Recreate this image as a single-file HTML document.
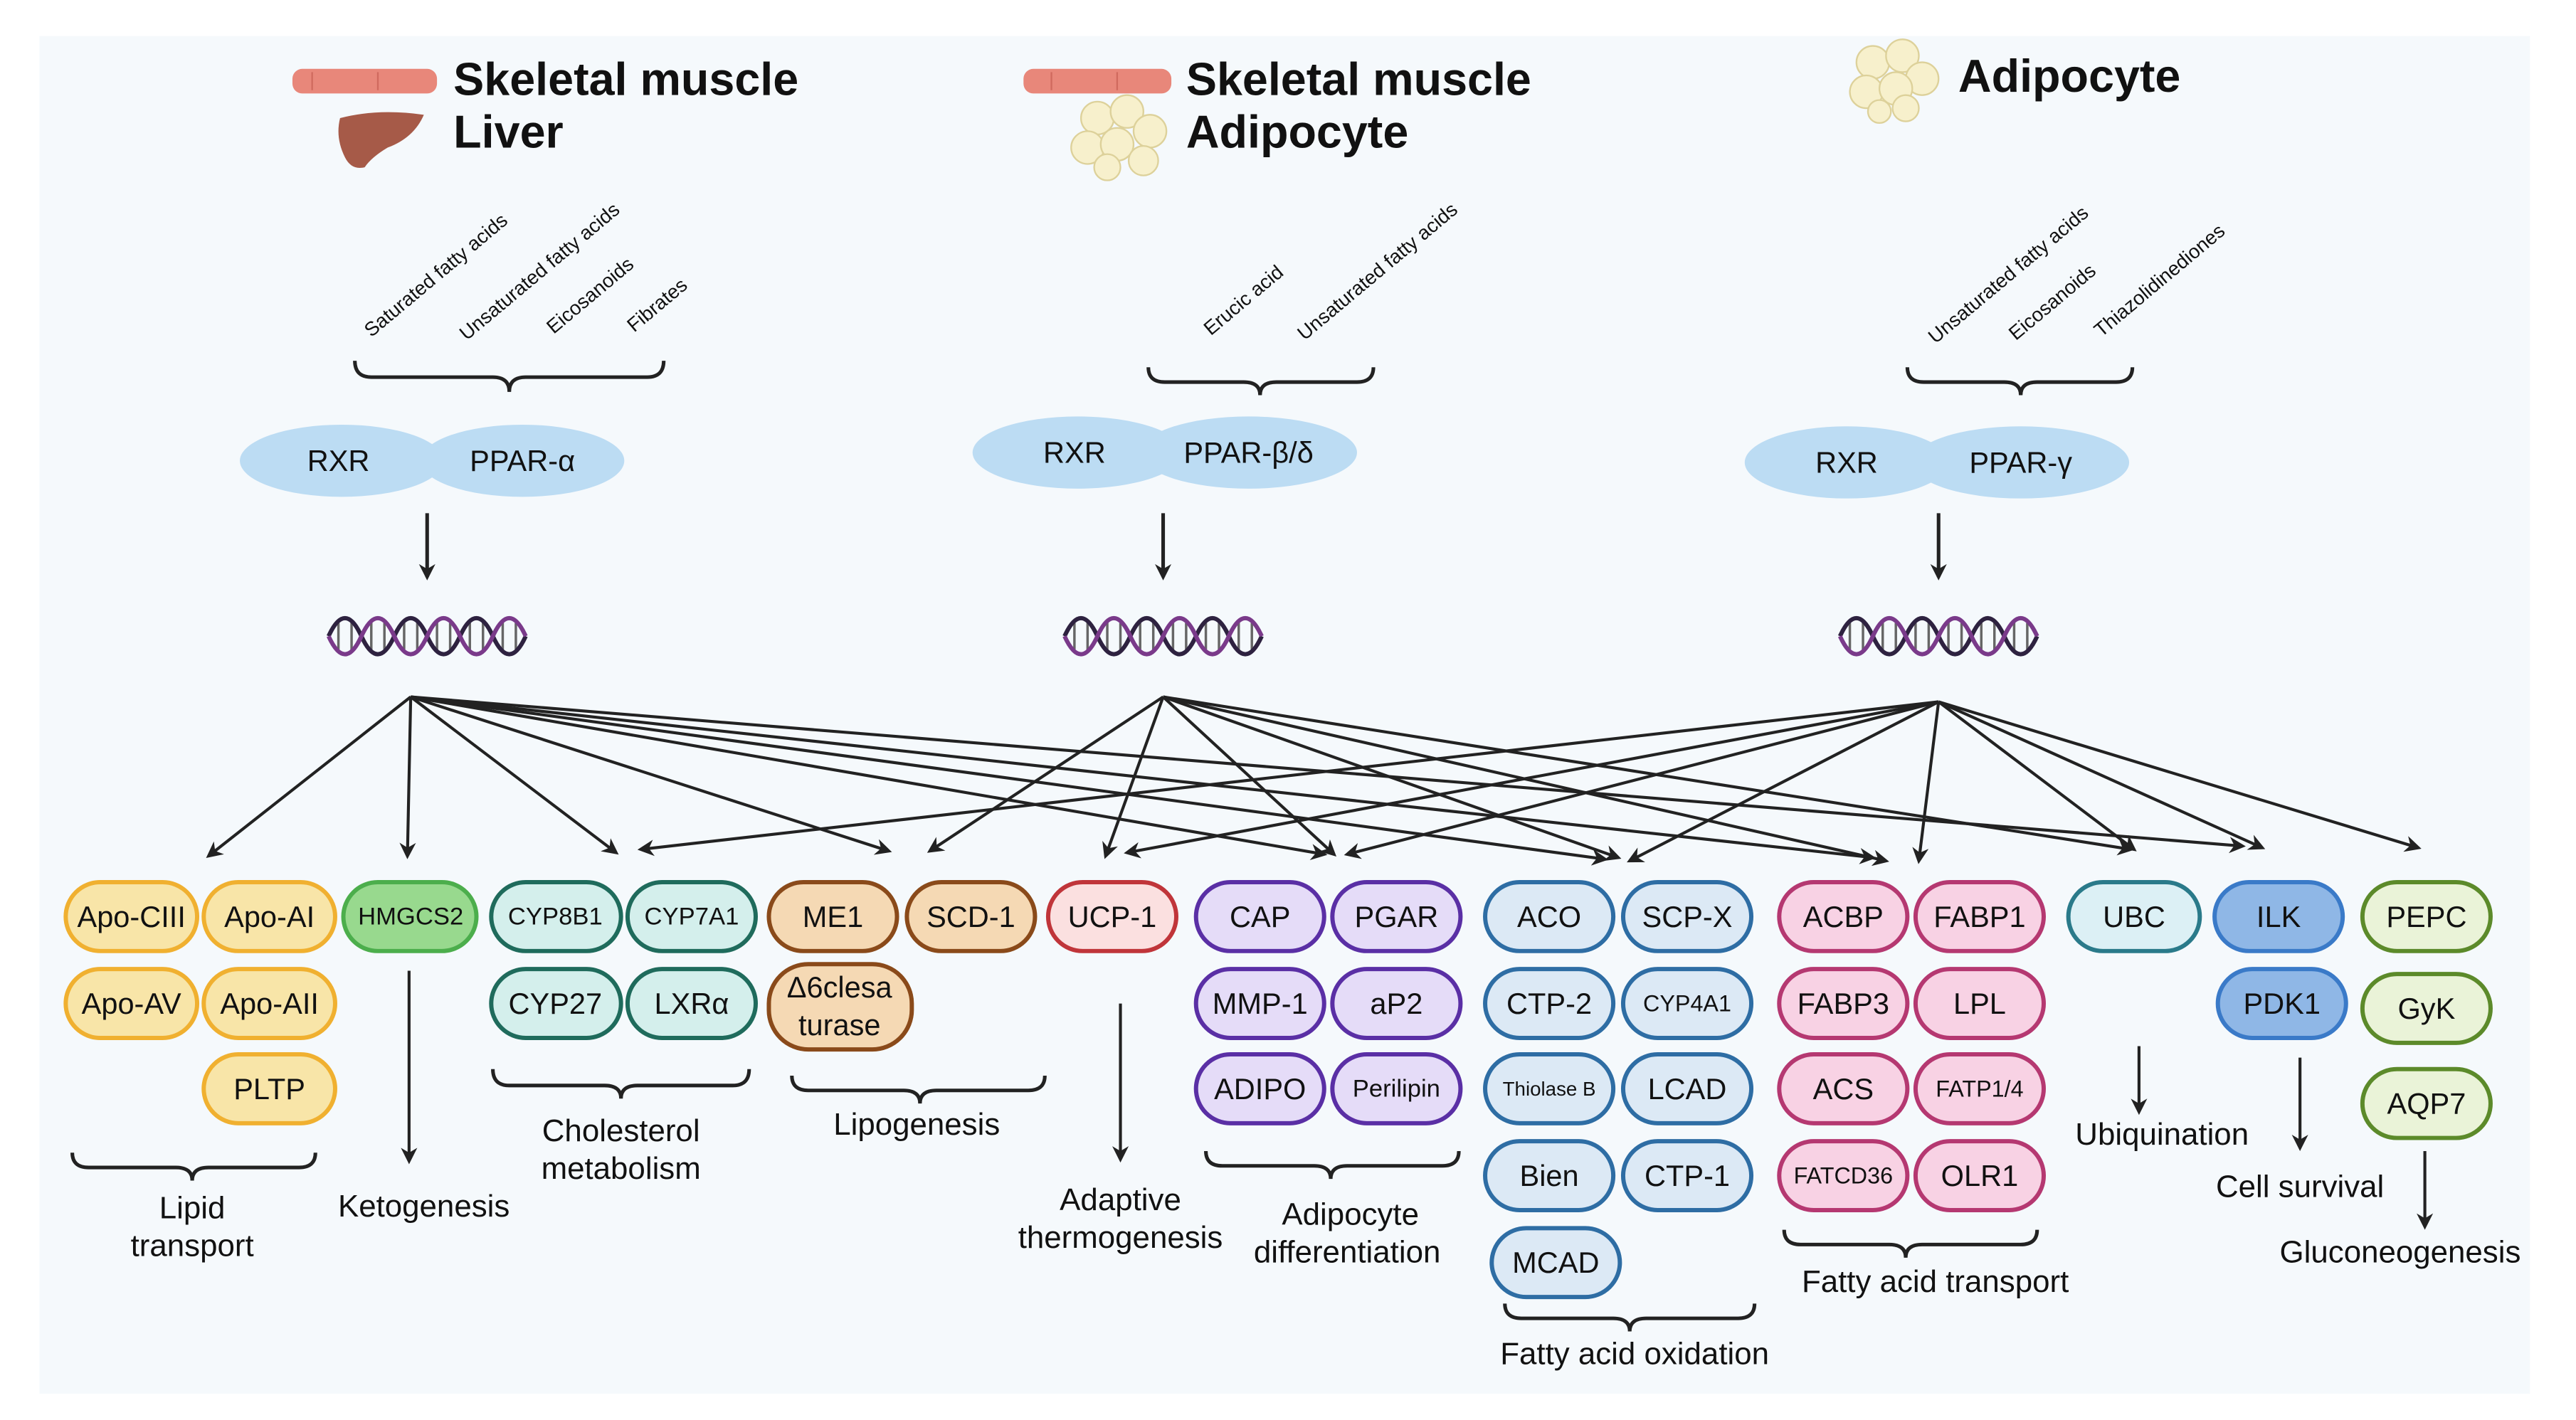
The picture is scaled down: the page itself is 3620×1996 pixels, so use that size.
<!DOCTYPE html>
<html><head><meta charset="utf-8"><style>
html,body{margin:0;padding:0;background:#fff}
svg{display:block}
text{font-family:"Liberation Sans",sans-serif;fill:#111}
.n{font-size:18px;text-anchor:middle;dominant-baseline:central}
.l{font-size:19px;text-anchor:middle}
.r{font-size:12px}
.h{font-size:28px;font-weight:bold}
</style></head><body>
<svg width="3620" height="1996" viewBox="0 0 1568 866" preserveAspectRatio="none" xmlns="http://www.w3.org/2000/svg">
<defs>
<marker id="a" markerWidth="10" markerHeight="10" refX="8" refY="5" orient="auto" markerUnits="userSpaceOnUse">
<path d="M0,0 L10,5 L0,10 L3,5 z" fill="#222"/></marker>
</defs>
<rect x="0" y="0" width="1568" height="866" fill="#fff"/>
<rect x="24" y="22" width="1516" height="828" fill="#f5f9fc"/>

<!-- headers -->
<g>
<rect x="178" y="42" width="88" height="15" rx="6" fill="#e8877a"/>
<line x1="190" y1="44" x2="190" y2="55" stroke="#d06a5e"/><line x1="230" y1="44" x2="230" y2="55" stroke="#d06a5e"/>
<path d="M207,72 Q230,66 258,70 Q252,84 236,90 Q226,96 222,102 Q214,104 210,96 Q204,84 207,72z" fill="#a65a48"/>
<text class="h" x="276" y="58">Skeletal muscle</text>
<text class="h" x="276" y="90">Liver</text>

<rect x="623" y="42" width="90" height="15" rx="6" fill="#e8877a"/>
<line x1="640" y1="44" x2="640" y2="55" stroke="#d06a5e"/><line x1="680" y1="44" x2="680" y2="55" stroke="#d06a5e"/>
<g fill="#f7f0cc" stroke="#ddd19a" stroke-width="1">
<circle cx="668" cy="72" r="10"/><circle cx="686" cy="68" r="10"/><circle cx="700" cy="80" r="10"/><circle cx="662" cy="90" r="10"/><circle cx="680" cy="88" r="10"/><circle cx="696" cy="98" r="9"/><circle cx="674" cy="102" r="8"/></g>
<text class="h" x="722" y="58">Skeletal muscle</text>
<text class="h" x="722" y="90">Adipocyte</text>

<g fill="#f7f0cc" stroke="#ddd19a" stroke-width="1">
<circle cx="1140" cy="38" r="10"/><circle cx="1158" cy="34" r="10"/><circle cx="1170" cy="48" r="10"/><circle cx="1136" cy="56" r="10"/><circle cx="1154" cy="54" r="10"/><circle cx="1160" cy="66" r="8"/><circle cx="1144" cy="68" r="7"/></g>
<text class="h" x="1192" y="56">Adipocyte</text>
</g>

<!-- ligands -->
<g>
<text class="r" transform="translate(226,206) rotate(-40)">Saturated fatty acids</text>
<text class="r" transform="translate(284,208) rotate(-40)">Unsaturated fatty acids</text>
<text class="r" transform="translate(337,204) rotate(-40)">Eicosanoids</text>
<text class="r" transform="translate(386,203) rotate(-40)">Fibrates</text>
<text class="r" transform="translate(737,205) rotate(-40)">Erucic acid</text>
<text class="r" transform="translate(794,208) rotate(-40)">Unsaturated fatty acids</text>
<text class="r" transform="translate(1178,210) rotate(-40)">Unsaturated fatty acids</text>
<text class="r" transform="translate(1227,208) rotate(-40)">Eicosanoids</text>
<text class="r" transform="translate(1279,206) rotate(-40)">Thiazolidinediones</text>
</g>

<!-- braces -->
<g fill="none" stroke="#222" stroke-width="2.2">
<path d="M216,220 Q216,230 226,230 L300,230 Q310,230 310,239 Q310,230 320,230 L394,230 Q404,230 404,220"/>
<path d="M699,224 Q699,233 709,233 L757,233 Q767,233 767,241 Q767,233 777,233 L826,233 Q836,233 836,224"/>
<path d="M1161,224 Q1161,233 1171,233 L1220,233 Q1230,233 1230,241 Q1230,233 1240,233 L1288,233 Q1298,233 1298,224"/>
<path d="M44,703 Q44,712 54,712 L107,712 Q117,712 117,720 Q117,712 127,712 L182,712 Q192,712 192,703"/>
<path d="M300,652 Q300,662 310,662 L368,662 Q378,662 378,670 Q378,662 388,662 L446,662 Q456,662 456,652"/>
<path d="M482,656 Q482,665 492,665 L550,665 Q560,665 560,673 Q560,665 570,665 L626,665 Q636,665 636,656"/>
<path d="M734,702 Q734,711 744,711 L800,711 Q810,711 810,719 Q810,711 820,711 L878,711 Q888,711 888,702"/>
<path d="M916,795 Q916,804 926,804 L982,804 Q992,804 992,812 Q992,804 1002,804 L1058,804 Q1068,804 1068,795"/>
<path d="M1086,750 Q1086,759 1096,759 L1150,759 Q1160,759 1160,767 Q1160,759 1170,759 L1230,759 Q1240,759 1240,750"/>
</g>

<!-- receptors -->
<g fill="#bcdcf3">
<ellipse cx="208" cy="281" rx="62" ry="22"/><ellipse cx="318" cy="281" rx="62" ry="22"/>
<ellipse cx="656" cy="276" rx="64" ry="22"/><ellipse cx="760" cy="276" rx="66" ry="22"/>
<ellipse cx="1124" cy="282" rx="62" ry="22"/><ellipse cx="1230" cy="282" rx="66" ry="22"/>
</g>
<g>
<text class="n" x="206" y="281">RXR</text><text class="n" x="318" y="281">PPAR-α</text>
<text class="n" x="654" y="276">RXR</text><text class="n" x="760" y="276">PPAR-β/δ</text>
<text class="n" x="1124" y="282">RXR</text><text class="n" x="1230" y="282">PPAR-γ</text>
</g>

<!-- down arrows -->
<g stroke="#222" stroke-width="2.2" marker-end="url(#a)">
<line x1="260" y1="313" x2="260" y2="352"/>
<line x1="708" y1="313" x2="708" y2="352"/>
<line x1="1180" y1="313" x2="1180" y2="352"/>
</g>

<!-- DNA -->
<g fill="none">
<g id="dna">
<g stroke="#666" stroke-width="1.5">
<line x1="206" y1="380" x2="206" y2="396"/><line x1="214" y1="378" x2="214" y2="398"/>
<line x1="226" y1="378" x2="226" y2="398"/><line x1="234" y1="380" x2="234" y2="396"/>
<line x1="246" y1="380" x2="246" y2="396"/><line x1="254" y1="378" x2="254" y2="398"/>
<line x1="266" y1="378" x2="266" y2="398"/><line x1="274" y1="380" x2="274" y2="396"/>
<line x1="286" y1="380" x2="286" y2="396"/><line x1="294" y1="378" x2="294" y2="398"/>
<line x1="306" y1="378" x2="306" y2="398"/><line x1="314" y1="380" x2="314" y2="396"/>
</g>
<path d="M200,388 Q210,366 220,388 T240,388 T260,388 T280,388 T300,388 T320,388" stroke="#2e2240" stroke-width="2.6"/>
<path d="M200,388 Q210,410 220,388 T240,388 T260,388 T280,388 T300,388 T320,388" stroke="#7a3a8a" stroke-width="2.6"/>
</g>
<use href="#dna" x="448"/>
<use href="#dna" x="920"/>
</g>

<!-- target arrows -->
<g stroke="#222" stroke-width="1.8" marker-end="url(#a)" fill="none">
<line x1="250" y1="425" x2="127" y2="522"/>
<line x1="250" y1="425" x2="248" y2="522"/>
<line x1="250" y1="425" x2="375" y2="520"/>
<line x1="250" y1="425" x2="541" y2="519"/>
<line x1="250" y1="425" x2="806" y2="521"/>
<line x1="250" y1="425" x2="977" y2="524"/>
<line x1="250" y1="425" x2="1140" y2="523"/>
<line x1="250" y1="425" x2="1365" y2="516"/>
<line x1="708" y1="425" x2="566" y2="519"/>
<line x1="708" y1="425" x2="673" y2="522"/>
<line x1="708" y1="425" x2="812" y2="521"/>
<line x1="708" y1="425" x2="985" y2="523"/>
<line x1="708" y1="425" x2="1148" y2="525"/>
<line x1="708" y1="425" x2="1297" y2="518"/>
<line x1="1180" y1="428" x2="390" y2="518"/>
<line x1="1180" y1="428" x2="686" y2="520"/>
<line x1="1180" y1="428" x2="820" y2="521"/>
<line x1="1180" y1="428" x2="992" y2="525"/>
<line x1="1180" y1="428" x2="1168" y2="525"/>
<line x1="1180" y1="428" x2="1299" y2="518"/>
<line x1="1180" y1="428" x2="1377" y2="517"/>
<line x1="1180" y1="428" x2="1472" y2="517"/>
</g>

<!-- nodes -->
<g stroke-width="2.6">
<g fill="#f8e5a8" stroke="#f0b030">
<rect x="40" y="538" width="80" height="42" rx="21"/><rect x="124" y="538" width="80" height="42" rx="21"/>
<rect x="40" y="591" width="80" height="42" rx="21"/><rect x="124" y="591" width="80" height="42" rx="21"/>
<rect x="124" y="643" width="80" height="42" rx="21"/></g>
<rect x="209" y="538" width="81" height="42" rx="21" fill="#98d98e" stroke="#4cae4c"/>
<g fill="#d4efec" stroke="#1f6b5c">
<rect x="299" y="538" width="79" height="42" rx="21"/><rect x="382" y="538" width="78" height="42" rx="21"/>
<rect x="299" y="591" width="79" height="42" rx="21"/><rect x="382" y="591" width="78" height="42" rx="21"/></g>
<g fill="#f5d9b4" stroke="#8a4a1a">
<rect x="468" y="538" width="78" height="42" rx="21"/><rect x="552" y="538" width="78" height="42" rx="21"/>
<rect x="468" y="588" width="87" height="52" rx="24"/></g>
<rect x="638" y="538" width="78" height="42" rx="21" fill="#fbe0e0" stroke="#c0353a"/>
<g fill="#e5dcf8" stroke="#5a2fa5">
<rect x="728" y="538" width="78" height="42" rx="21"/><rect x="811" y="538" width="78" height="42" rx="21"/>
<rect x="728" y="591" width="78" height="42" rx="21"/><rect x="811" y="591" width="78" height="42" rx="21"/>
<rect x="728" y="643" width="78" height="42" rx="21"/><rect x="811" y="643" width="78" height="42" rx="21"/></g>
<g fill="#dce9f5" stroke="#2e6da4">
<rect x="904" y="538" width="78" height="42" rx="21"/><rect x="988" y="538" width="78" height="42" rx="21"/>
<rect x="904" y="591" width="78" height="42" rx="21"/><rect x="988" y="591" width="78" height="42" rx="21"/>
<rect x="904" y="643" width="78" height="42" rx="21"/><rect x="988" y="643" width="78" height="42" rx="21"/>
<rect x="904" y="696" width="78" height="42" rx="21"/><rect x="988" y="696" width="78" height="42" rx="21"/>
<rect x="908" y="749" width="78" height="42" rx="21"/></g>
<g fill="#f8d2e4" stroke="#b53871">
<rect x="1083" y="538" width="78" height="42" rx="21"/><rect x="1166" y="538" width="78" height="42" rx="21"/>
<rect x="1083" y="591" width="78" height="42" rx="21"/><rect x="1166" y="591" width="78" height="42" rx="21"/>
<rect x="1083" y="643" width="78" height="42" rx="21"/><rect x="1166" y="643" width="78" height="42" rx="21"/>
<rect x="1083" y="696" width="78" height="42" rx="21"/><rect x="1166" y="696" width="78" height="42" rx="21"/></g>
<rect x="1259" y="538" width="80" height="42" rx="21" fill="#dcf0f5" stroke="#2a7a8a"/>
<g fill="#8fb7e6" stroke="#3a7ac8">
<rect x="1348" y="538" width="78" height="42" rx="21"/><rect x="1350" y="591" width="78" height="42" rx="21"/></g>
<g fill="#eaf3d8" stroke="#5c8a2a">
<rect x="1438" y="538" width="78" height="42" rx="21"/><rect x="1438" y="594" width="78" height="42" rx="21"/>
<rect x="1438" y="652" width="78" height="42" rx="21"/></g>
</g>
<g>
<text class="n" x="80" y="559">Apo-CIII</text><text class="n" x="164" y="559">Apo-AI</text>
<text class="n" x="80" y="612">Apo-AV</text><text class="n" x="164" y="612">Apo-AII</text>
<text class="n" x="164" y="664">PLTP</text>
<text class="n" x="250" y="559" style="font-size:15px">HMGCS2</text>
<text class="n" x="338" y="559" style="font-size:15px">CYP8B1</text><text class="n" x="421" y="559" style="font-size:15px">CYP7A1</text>
<text class="n" x="338" y="612">CYP27</text><text class="n" x="421" y="612">LXRα</text>
<text class="n" x="507" y="559">ME1</text><text class="n" x="591" y="559">SCD-1</text>
<text class="n" x="511" y="602">Δ6clesa</text><text class="n" x="511" y="625">turase</text>
<text class="n" x="677" y="559">UCP-1</text>
<text class="n" x="767" y="559">CAP</text><text class="n" x="850" y="559">PGAR</text>
<text class="n" x="767" y="612">MMP-1</text><text class="n" x="850" y="612">aP2</text>
<text class="n" x="767" y="664">ADIPO</text><text class="n" x="850" y="664" style="font-size:15px">Perilipin</text>
<text class="n" x="943" y="559">ACO</text><text class="n" x="1027" y="559">SCP-X</text>
<text class="n" x="943" y="612">CTP-2</text><text class="n" x="1027" y="612" style="font-size:14px">CYP4A1</text>
<text class="n" x="943" y="664" style="font-size:12px">Thiolase B</text><text class="n" x="1027" y="664">LCAD</text>
<text class="n" x="943" y="717">Bien</text><text class="n" x="1027" y="717">CTP-1</text>
<text class="n" x="947" y="770">MCAD</text>
<text class="n" x="1122" y="559">ACBP</text><text class="n" x="1205" y="559">FABP1</text>
<text class="n" x="1122" y="612">FABP3</text><text class="n" x="1205" y="612">LPL</text>
<text class="n" x="1122" y="664">ACS</text><text class="n" x="1205" y="664" style="font-size:14px">FATP1/4</text>
<text class="n" x="1122" y="717" style="font-size:14px">FATCD36</text><text class="n" x="1205" y="717">OLR1</text>
<text class="n" x="1299" y="559">UBC</text>
<text class="n" x="1387" y="559">ILK</text><text class="n" x="1389" y="612">PDK1</text>
<text class="n" x="1477" y="559">PEPC</text><text class="n" x="1477" y="615">GyK</text><text class="n" x="1477" y="673">AQP7</text>
</g>

<!-- process arrows -->
<g stroke="#222" stroke-width="1.8" marker-end="url(#a)">
<line x1="249" y1="592" x2="249" y2="708"/>
<line x1="682" y1="612" x2="682" y2="707"/>
<line x1="1302" y1="638" x2="1302" y2="678"/>
<line x1="1400" y1="645" x2="1400" y2="700"/>
<line x1="1476" y1="702" x2="1476" y2="748"/>
</g>

<!-- labels -->
<g>
<text class="l" x="117" y="743">Lipid</text><text class="l" x="117" y="766">transport</text>
<text class="l" x="258" y="742">Ketogenesis</text>
<text class="l" x="378" y="696">Cholesterol</text><text class="l" x="378" y="719">metabolism</text>
<text class="l" x="558" y="692">Lipogenesis</text>
<text class="l" x="682" y="738">Adaptive</text><text class="l" x="682" y="761">thermogenesis</text>
<text class="l" x="822" y="747">Adipocyte</text><text class="l" x="820" y="770">differentiation</text>
<text class="l" x="995" y="832">Fatty acid oxidation</text>
<text class="l" x="1178" y="788">Fatty acid transport</text>
<text class="l" x="1316" y="698">Ubiquination</text>
<text class="l" x="1400" y="730">Cell survival</text>
<text class="l" x="1461" y="770">Gluconeogenesis</text>
</g>
</svg>
</body></html>
